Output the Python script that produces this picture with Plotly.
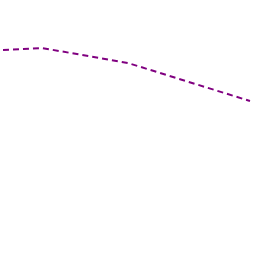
import plotly.graph_objects as go

x_vals = [3, 42, 128, 250]
y_vals = [206, 208, 193, 155]

fig = go.Figure()
fig.add_trace(go.Scatter(x=x_vals, y=y_vals, mode="lines",
                         line=dict(color="#800080", width=2, dash="6px,4px")))
fig.update_layout(width=256, height=256, margin=dict(l=0, r=0, t=0, b=0),
                  paper_bgcolor="white", plot_bgcolor="white", showlegend=False,
                  xaxis=dict(range=[0, 256], visible=False),
                  yaxis=dict(range=[0, 256], visible=False))
fig.write_html("out.html")
